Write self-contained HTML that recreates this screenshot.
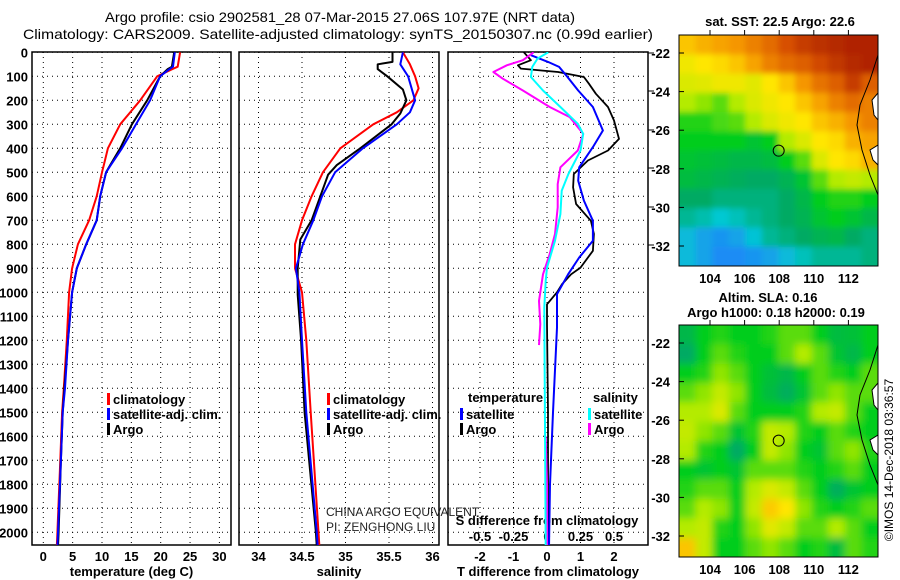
<!DOCTYPE html>
<html><head><meta charset="utf-8">
<style>
html,body{margin:0;padding:0;background:#fff;}
svg{display:block;font-family:"Liberation Sans",sans-serif;}
.b{font-weight:bold;font-size:13px;fill:#000;}
</style></head>
<body>
<svg id="chart" width="900" height="580" viewBox="0 0 900 580" xmlns="http://www.w3.org/2000/svg">
<defs>
<clipPath id="cp1"><rect x="32" y="52" width="199" height="493"/></clipPath>
<clipPath id="cp2"><rect x="239" y="52" width="200" height="493"/></clipPath>
<clipPath id="cp3"><rect x="448" y="52" width="200" height="493"/></clipPath>
<clipPath id="cpm1"><rect x="679" y="35" width="199" height="231"/></clipPath>
<clipPath id="cpm2"><rect x="679" y="325" width="199" height="232"/></clipPath>
<filter id="blur1" x="-10%" y="-10%" width="120%" height="120%"><feGaussianBlur stdDeviation="3"/></filter>
<filter id="blur2" x="-10%" y="-10%" width="120%" height="120%"><feGaussianBlur stdDeviation="4"/></filter>
</defs>
<text x="340" y="22" text-anchor="middle" font-size="14" textLength="470" lengthAdjust="spacingAndGlyphs">Argo profile: csio 2902581_28 07-Mar-2015 27.06S 107.97E (NRT data)</text>
<text x="338" y="39" text-anchor="middle" font-size="14" textLength="630" lengthAdjust="spacingAndGlyphs">Climatology: CARS2009. Satellite-adjusted climatology: synTS_20150307.nc (0.99d earlier)</text>
<g id="g"></g>
<text x="780" y="26" text-anchor="middle" class="b">sat. SST: 22.5 Argo: 22.6</text>
<text x="768" y="302" text-anchor="middle" class="b">Altim. SLA: 0.16</text>
<text x="776" y="317" text-anchor="middle" class="b">Argo h1000: 0.18 h2000: 0.19</text>
<text transform="translate(893,460) rotate(-90)" text-anchor="middle" font-size="12">©IMOS 14-Dec-2018 03:36:57</text>
<text x="326" y="516" font-size="12" fill="#222">CHINA ARGO EQUIVALENT</text>
<text x="326" y="531" font-size="12" fill="#222">PI: ZENGHONG LIU</text>
</svg>
<script>
// ---- data ----
const tDepth = [0,60,70,100,200,300,400,470,500,600,700,800,900,1000,1200,1400,1500,1700,2000,2060];
const tArgo  = [22.3,21.9,21.2,19.9,17.7,15.1,13.1,11.4,10.7,9.7,9.1,7.3,5.7,4.9,4.2,3.6,3.3,3.0,2.6,2.5];
const tSat   = [22.4,22.1,21.5,19.9,18.2,15.8,13.4,11.5,10.7,9.7,9.1,7.3,5.7,4.9,4.2,3.7,3.3,3.0,2.5,2.4];
const tClim  = [23.3,22.9,22.0,19.4,16.5,13.1,11.0,10.3,10.0,9.1,7.8,5.9,4.9,4.4,4.0,3.5,3.2,2.9,2.4,2.3];
const sDepthA = [0,40,50,70,100,155,200,255,300,400,470,510,600,700,780,900,1010,1200,1500,2000,2060];
const sArgo   = [35.54,35.54,35.37,35.37,35.48,35.66,35.70,35.63,35.53,35.17,34.90,34.80,34.71,34.61,34.48,34.45,34.45,34.49,34.53,34.66,34.67];
const sDepth = [0,50,100,150,200,250,300,400,500,600,700,800,900,1000,1200,1500,2000,2060];
const sSat   = [35.66,35.63,35.72,35.76,35.80,35.74,35.59,35.20,34.88,34.73,34.63,34.51,34.43,34.47,34.50,34.55,34.67,34.68];
const sClim  = [35.66,35.74,35.80,35.84,35.78,35.59,35.32,34.94,34.74,34.61,34.50,34.42,34.42,34.50,34.55,34.60,34.69,34.70];
const dtDepthA = [0,33,54,68,82,103,131,173,228,284,361,409,451,507,563,632,702,757,827,897,925,966,1000,1050,1133,1500,2060];
const dtArgo   = [-0.69,-0.48,-0.87,-0.78,0.33,1.1,1.25,1.46,1.82,2.0,2.15,1.82,1.22,0.8,0.78,0.87,1.31,1.4,1.37,1.0,0.72,0.45,0.3,0.0,0.0,0.03,0.03];
const dtDepthS = [12,40,61,96,159,228,326,395,479,535,618,702,785,855,925,1008,1147,1500,1800,2060];
const dtSat    = [-0.48,0.03,0.36,0.57,0.93,1.37,1.67,1.37,0.96,0.93,1.1,1.37,1.37,0.96,0.63,0.3,0.3,0.18,0.09,0.06];
const dsDepthA = [0,33,54,82,110,159,228,270,340,409,479,549,646,757,841,925,1036,1133,1220];
const dsArgo   = [-0.10,-0.18,-0.30,-0.40,-0.33,-0.18,0.02,0.17,0.27,0.23,0.10,0.08,0.08,0.06,0.02,-0.03,-0.06,-0.05,-0.06];
const dsDepthA2 = [1600,1800,2060];
const dsArgo2   = [-0.01,0.0,0.0];
const dsDepthS = [0,26,61,103,159,228,298,340,409,507,577,674,785,897,953,1064,2060];
const dsSat    = [0.01,-0.07,-0.11,-0.12,-0.03,0.10,0.23,0.27,0.25,0.16,0.11,0.10,0.06,0.0,-0.01,-0.02,-0.01];
const depthTicks = [0,100,200,300,400,500,600,700,800,900,1000,1100,1200,1300,1400,1500,1600,1700,1800,1900,2000];
const tTicks = [0,5,10,15,20,25,30];
const sTicks = [34,34.5,35,35.5,36];
const sTickLabels = ["34","34.5","35","35.5","36"];
const dtTicks = [-2,-1,0,1,2];
const dsTicks = [-0.5,-0.25,0,0.25,0.5];
const dsTickLabels = ["-0.5","-0.25","0","0.25","0.5"];
const lonTicks = [104,106,108,110,112];
const latTicks = [-22,-24,-26,-28,-30,-32];
const floatLon = 107.97, floatLat = -27.06;
const sstGrid = [
[0.75,0.78,0.80,0.82,0.85,0.88,0.92,0.95,0.97,0.98,0.99,0.99],
[0.68,0.70,0.72,0.75,0.80,0.85,0.88,0.90,0.93,0.96,0.98,0.99],
[0.65,0.66,0.68,0.68,0.66,0.70,0.75,0.82,0.87,0.90,0.95,0.90],
[0.60,0.58,0.55,0.60,0.65,0.68,0.70,0.75,0.80,0.85,0.88,0.85],
[0.52,0.52,0.54,0.55,0.60,0.65,0.68,0.70,0.75,0.78,0.82,0.85],
[0.50,0.50,0.50,0.50,0.48,0.50,0.60,0.65,0.70,0.72,0.78,0.80],
[0.48,0.47,0.46,0.45,0.45,0.46,0.50,0.55,0.65,0.70,0.72,0.78],
[0.46,0.45,0.44,0.43,0.42,0.42,0.44,0.48,0.55,0.60,0.62,0.60],
[0.42,0.42,0.40,0.40,0.40,0.40,0.42,0.45,0.50,0.52,0.52,0.50],
[0.38,0.36,0.33,0.35,0.38,0.40,0.42,0.44,0.48,0.50,0.48,0.45],
[0.30,0.25,0.22,0.25,0.32,0.38,0.40,0.42,0.44,0.45,0.42,0.40],
[0.30,0.25,0.20,0.20,0.22,0.25,0.30,0.35,0.38,0.38,0.38,0.40]];
const slaGrid = [
[0.45,0.50,0.52,0.50,0.50,0.52,0.55,0.55,0.50,0.46,0.47,0.50],
[0.42,0.50,0.55,0.52,0.50,0.50,0.55,0.60,0.55,0.48,0.45,0.50],
[0.50,0.52,0.58,0.55,0.50,0.47,0.45,0.50,0.55,0.52,0.50,0.55],
[0.55,0.58,0.62,0.58,0.50,0.46,0.43,0.48,0.55,0.58,0.55,0.55],
[0.60,0.60,0.65,0.55,0.50,0.50,0.50,0.52,0.60,0.62,0.55,0.50],
[0.62,0.58,0.55,0.48,0.52,0.62,0.60,0.52,0.50,0.55,0.52,0.50],
[0.60,0.52,0.50,0.42,0.50,0.62,0.58,0.50,0.48,0.55,0.58,0.52],
[0.50,0.48,0.50,0.48,0.55,0.55,0.55,0.52,0.50,0.52,0.55,0.50],
[0.52,0.55,0.55,0.50,0.60,0.65,0.62,0.55,0.50,0.43,0.48,0.50],
[0.55,0.60,0.58,0.50,0.62,0.74,0.70,0.58,0.52,0.50,0.52,0.55],
[0.60,0.62,0.52,0.50,0.58,0.66,0.62,0.55,0.55,0.60,0.55,0.50],
[0.75,0.62,0.50,0.50,0.55,0.58,0.55,0.50,0.52,0.46,0.55,0.52]];

// ---- scales ----
const Y = d => 52.3 + d*0.24;
const XT = t => 43.3 + t*5.87;
const XS = s => 345.5 + (s-35)*87;
const XDT = v => 547 + v*33.5;
const XDS = v => 547 + v*134;
const LON = lo => 710 + (lo-104)*17.3;
const LAT1 = la => 53 + (-22-la)*19.3;
const LAT2 = la => 343 + (-22-la)*19.3;

const NS="http://www.w3.org/2000/svg";
const G=document.getElementById('g');
function mk(tag,attrs,parent){const e=document.createElementNS(NS,tag);for(const k in attrs)e.setAttribute(k,attrs[k]);(parent||G).appendChild(e);return e;}
function txt(x,y,s,anchor,cls,parent){const e=mk('text',{x:x,y:y,'text-anchor':anchor||'start','class':cls||'b'},parent);e.textContent=s;return e;}

function panel(x0,x1,name,xticks,xs,xlabels,xtitle){
  const g=mk('g',{});
  
  
  depthTicks.forEach(d=>{const l=mk('line',{x1:x0,x2:x1,y1:Y(d),y2:Y(d),stroke:'#000','stroke-dasharray':'1,4','stroke-width':1},g);
    
    });
  xticks.forEach((t,i)=>{const l=mk('line',{x1:xs(t),x2:xs(t),y1:52,y2:545,stroke:'#000','stroke-dasharray':'1,4','stroke-width':1},g);
    
    
    if(xlabels){const tl=txt(xs(t),561,xlabels[i],'middle','b',g);
      
      }});
  const r=mk('rect',{x:x0,y:52,width:x1-x0,height:493,fill:'none',stroke:'#000','stroke-width':1.5},g);
  
  
  const tt=txt((x0+x1)/2,576,xtitle,'middle','b',g);
  
  
  return g;
}
panel(32,231,'temperature-panel',tTicks,XT,tTicks.map(String),'temperature (deg C)');
panel(239,439,'salinity-panel',sTicks,XS,sTickLabels,'salinity');
panel(448,648,'difference-panel',dtTicks,XDT,dtTicks.map(String),'T difference from climatology');
depthTicks.forEach(d=>{const t=txt(28,Y(d)+5,String(d),'end');
  
  });
dsTicks.forEach((v,i)=>{const t=txt(XDS(v),541,dsTickLabels[i],'middle');
  
  });
{const t=txt(547,525,'S difference from climatology','middle');
 
 }
[53,91,130,168,207,245].forEach(y=>{const l=mk('line',{x1:648,x2:654,y1:y,y2:y,stroke:'#000'});
  
  });

function line(depths,vals,xs,color,w,clip,name){
  let d='';depths.forEach((dp,i)=>{d+=(i?'L':'M')+xs(vals[i]).toFixed(1)+','+Y(dp).toFixed(1);});
  const p=mk('path',{d:d,fill:'none',stroke:color,'stroke-width':w,'clip-path':'url(#'+clip+')','stroke-linejoin':'round'});
  
  
}
line(tDepth,tClim,XT,'#f00',2,'cp1','temperature-climatology-line');
line(tDepth,tArgo,XT,'#000',2,'cp1','temperature-argo-line');
line(tDepth,tSat,XT,'#00f',2,'cp1','temperature-satellite-line');
line(sDepth,sClim,XS,'#f00',2,'cp2','salinity-climatology-line');
line(sDepthA,sArgo,XS,'#000',2,'cp2','salinity-argo-line');
line(sDepth,sSat,XS,'#00f',2,'cp2','salinity-satellite-line');
line(dtDepthA,dtArgo,XDT,'#000',1.8,'cp3','t-diff-argo-line');
line(dtDepthS,dtSat,XDT,'#00f',2,'cp3','t-diff-satellite-line');
line(dsDepthA,dsArgo,XDS,'#f0f',2,'cp3','s-diff-argo-line');
line(dsDepthA2,dsArgo2,XDS,'#f0f',2,'cp3','s-diff-argo-line-deep');
line(dsDepthS,dsSat,XDS,'#0ff',2,'cp3','s-diff-satellite-line');

function legend(x,y,items){
  items.forEach((it,i)=>{
    const r=mk('rect',{x:x,y:y+i*15-9,width:3,height:12,fill:it[1]});
    
    
    const t=txt(x+6,y+i*15+2,it[0]);
    
    
  });
}
legend(107,402,[['climatology','#f00'],['satellite-adj. clim.','#00f'],['Argo','#000']]);
legend(327,402,[['climatology','#f00'],['satellite-adj. clim.','#00f'],['Argo','#000']]);
{const t=txt(468,402,'temperature');}
legend(460,417,[['satellite','#00f'],['Argo','#000']]);
{const t=txt(593,402,'salinity');}
legend(588,417,[['satellite','#0ff'],['Argo','#f0f']]);

// ---- maps ----
const stops=[[0,[20,60,230]],[0.2,[30,140,245]],[0.33,[0,200,210]],[0.42,[0,170,100]],[0.5,[0,205,30]],[0.6,[180,235,0]],[0.7,[255,230,0]],[0.82,[245,150,0]],[0.92,[215,80,0]],[1,[170,30,0]]];
function cmap(v){for(let i=1;i<stops.length;i++){if(v<=stops[i][0]){const a=stops[i-1],b=stops[i],f=(v-a[0])/(b[0]-a[0]);return 'rgb('+a[1].map((c,k)=>Math.round(c+(b[1][k]-c)*f)).join(',')+')';}}return 'rgb(170,30,0)';}
function map(grid,top,h,clip,filt,name,LAT){
  const g=mk('g',{'clip-path':'url(#'+clip+')'});
  
  
  const bg=mk('rect',{x:679,y:top,width:199,height:h,fill:cmap(0.5)},g);
  
  
  const inner=mk('g',{filter:'url(#'+filt+')'},g);
  const rows=grid.length,cols=grid[0].length,cw=199/cols,ch=h/rows;
  grid.forEach((row,r)=>row.forEach((v,c)=>{
    const cell=mk('rect',{x:(679+c*cw-(c==0?12:0)).toFixed(1),y:(top+r*ch-(r==0?12:0)).toFixed(1),width:(cw+1+(c==0||c==cols-1?12:0)).toFixed(1),height:(ch+1+(r==0||r==rows-1?12:0)).toFixed(1),fill:cmap(v)},inner);
    
    
  }));
  const coast=mk('path',{d:'M878,'+(top+20)+' L870,'+(top+45)+' L860,'+(top+70)+' L857,'+(top+90)+' L862,'+(top+115)+' L870,'+(top+140)+' L878,'+(top+160),fill:'none',stroke:'#000','stroke-width':1},g);
  
  
  const land=mk('path',{d:'M878,'+(top+58)+' L872,'+(top+65)+' L874,'+(top+80)+' L878,'+(top+85)+' Z M878,'+(top+110)+' L870,'+(top+115)+' L873,'+(top+125)+' L878,'+(top+130)+' Z',fill:'#fff',stroke:'#000','stroke-width':1},g);
  
  
  const circ=mk('circle',{cx:LON(floatLon),cy:LAT(floatLat),r:5.5,fill:'none',stroke:'#000','stroke-width':1});
  
  
  const fr=mk('rect',{x:679,y:top,width:199,height:h,fill:'none',stroke:'#000','stroke-width':1});
  
  
  latTicks.forEach(la=>{const t=txt(670,LAT(la)+5,String(la),'end');
    
    
    const tk=mk('line',{x1:679,x2:684,y1:LAT(la),y2:LAT(la),stroke:'#000'});
    
    });
  lonTicks.forEach(lo=>{const t=txt(LON(lo),top+h+17,String(lo),'middle');
    
    
    const tk=mk('line',{x1:LON(lo),x2:LON(lo),y1:top,y2:top-5,stroke:'#000'});
    
    });
}
map(sstGrid,35,231,'cpm1','blur1','sst-map',LAT1);
map(slaGrid,325,232,'cpm2','blur2','sla-map',LAT2);
</script>
</body></html>
